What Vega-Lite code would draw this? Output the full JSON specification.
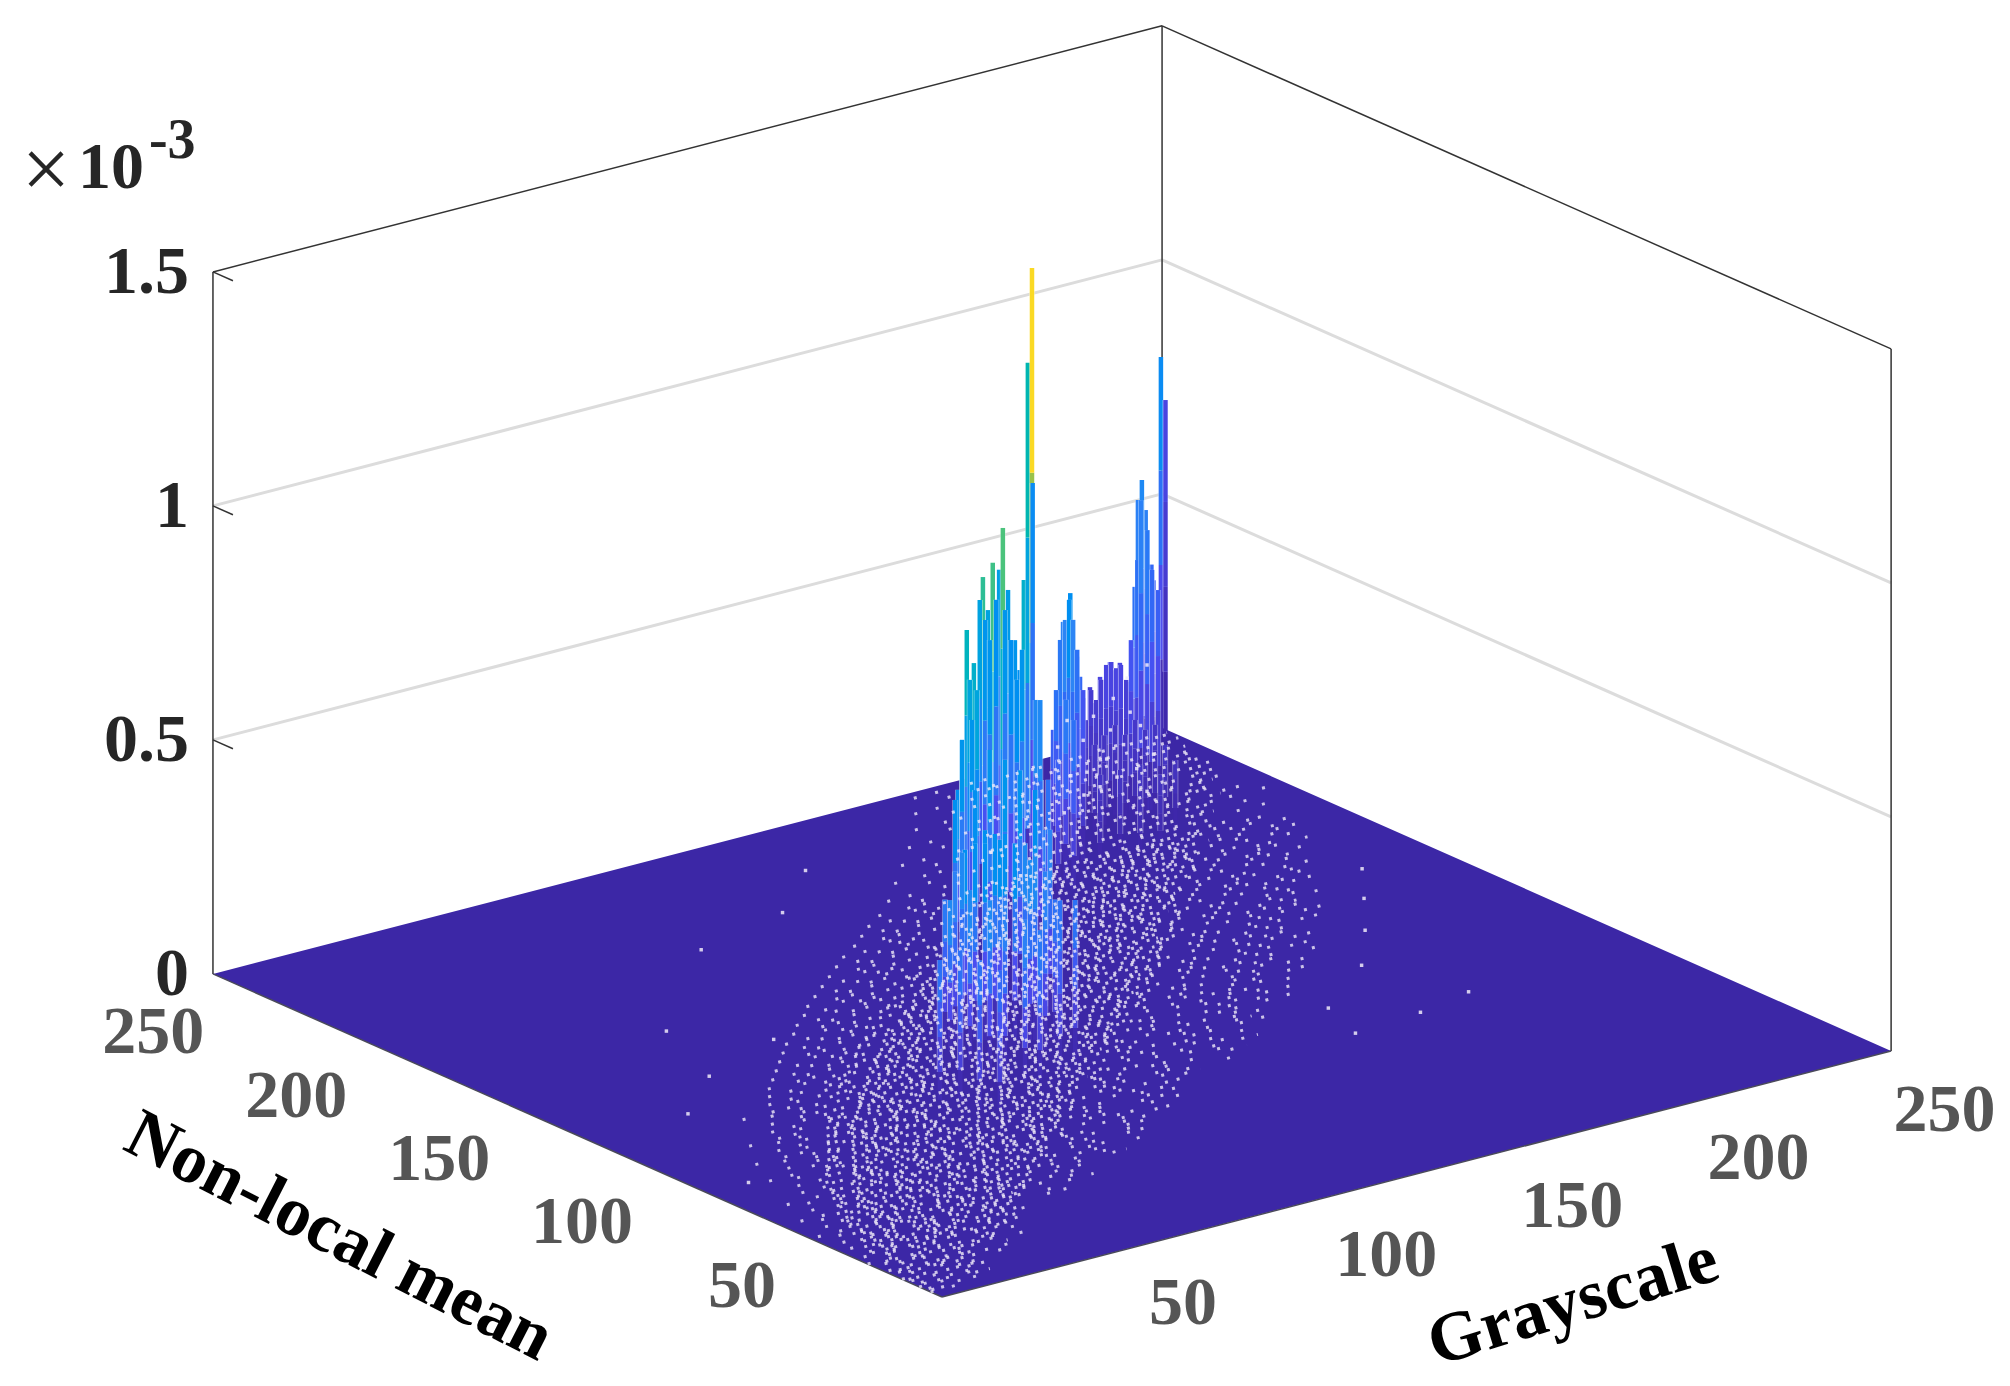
{"$schema":"https://vega.github.io/schema/vega-lite/v6.json","width":2010,"height":1386,"padding":0,"autosize":{"type":"fit","contains":"padding"},"background":"white","config":{"view":{"stroke":null}},
"datasets":{
"lines":[
{"k":"grid","g":0,"n":255,"z":0.5,"g2":255,"n2":255,"z2":0.5},{"k":"grid","g":255,"n":255,"z":0.5,"g2":255,"n2":0,"z2":0.5},{"k":"grid","g":0,"n":255,"z":1,"g2":255,"n2":255,"z2":1},{"k":"grid","g":255,"n":255,"z":1,"g2":255,"n2":0,"z2":1},
{"k":"box","g":0,"n":255,"z":0,"g2":0,"n2":255,"z2":1.5},{"k":"box","g":255,"n":255,"z":0,"g2":255,"n2":255,"z2":1.5},{"k":"box","g":255,"n":0,"z":0,"g2":255,"n2":0,"z2":1.5},{"k":"box","g":0,"n":255,"z":1.5,"g2":255,"n2":255,"z2":1.5},{"k":"box","g":255,"n":255,"z":1.5,"g2":255,"n2":0,"z2":1.5},
{"k":"box","g":0,"n":255,"z":0.5,"g2":0,"n2":248,"z2":0.5},{"k":"box","g":0,"n":255,"z":1,"g2":0,"n2":248,"z2":1},{"k":"box","g":0,"n":255,"z":1.5,"g2":0,"n2":248,"z2":1.5}],
"front":[{"k":"edge","g":0,"n":255,"z":0,"g2":0,"n2":0,"z2":0},{"k":"edge","g":0,"n":0,"z":0,"g2":255,"n2":0,"z2":0}],
"floor":[{"g":0,"n":255,"g2":0,"n2":255},{"g":195.9,"n":255,"g2":0,"n2":0},{"g":255,"n":255,"g2":59.4,"n2":0},{"g":255,"n":0,"g2":255,"n2":0}],
"mesh":[
{"n":4,"g":0,"g2":9,"p":"a"},{"n":6,"g":1,"g2":14,"p":"b"},{"n":8,"g":0,"g2":19,"p":"a"},{"n":10,"g":2,"g2":23,"p":"b"},{"n":12,"g":1,"g2":24,"p":"a"},{"n":14,"g":0,"g2":30,"p":"a"},{"n":16,"g":4,"g2":29,"p":"b"},{"n":18,"g":2,"g2":36,"p":"b"},{"n":20,"g":1,"g2":33,"p":"a"},{"n":22,"g":6,"g2":41,"p":"a"},{"n":24,"g":3,"g2":39,"p":"b"},{"n":26,"g":0,"g2":47,"p":"a"},{"n":28,"g":7,"g2":44,"p":"b"},{"n":30,"g":2,"g2":52,"p":"b"},{"n":32,"g":5,"g2":50,"p":"a"},{"n":34,"g":9,"g2":58,"p":"a"},{"n":36,"g":3,"g2":55,"p":"b"},{"n":38,"g":8,"g2":67,"p":"a"},{"n":40,"g":4,"g2":64,"p":"b"},{"n":42,"g":11,"g2":73,"p":"b"},{"n":44,"g":6,"g2":70,"p":"a"},{"n":46,"g":2,"g2":79,"p":"a"},{"n":48,"g":12,"g2":75,"p":"b"},{"n":50,"g":7,"g2":88,"p":"a"},{"n":52,"g":14,"g2":84,"p":"b"},{"n":54,"g":9,"g2":95,"p":"b"},{"n":56,"g":5,"g2":90,"p":"a"},{"n":58,"g":17,"g2":102,"p":"a"},{"n":60,"g":11,"g2":98,"p":"b"},{"n":62,"g":20,"g2":110,"p":"a"},{"n":64,"g":13,"g2":104,"p":"b"},{"n":66,"g":9,"g2":116,"p":"b"},{"n":68,"g":22,"g2":112,"p":"a"},{"n":70,"g":16,"g2":122,"p":"a"},{"n":72,"g":24,"g2":118,"p":"b"},{"n":74,"g":18,"g2":128,"p":"a"},{"n":76,"g":27,"g2":123,"p":"b"},{"n":78,"g":21,"g2":137,"p":"b"},{"n":80,"g":15,"g2":131,"p":"a"},{"n":82,"g":28,"g2":142,"p":"a"},{"n":84,"g":23,"g2":135,"p":"b"},{"n":86,"g":32,"g2":148,"p":"a"},{"n":88,"g":25,"g2":143,"p":"b"},{"n":90,"g":19,"g2":154,"p":"b"},{"n":92,"g":34,"g2":147,"p":"a"},{"n":94,"g":28,"g2":158,"p":"a"},{"n":96,"g":37,"g2":153,"p":"b"},{"n":98,"g":31,"g2":165,"p":"a"},{"n":100,"g":25,"g2":160,"p":"b"},{"n":102,"g":40,"g2":169,"p":"b"},{"n":104,"g":34,"g2":164,"p":"a"},{"n":106,"g":44,"g2":175,"p":"a"},{"n":108,"g":37,"g2":170,"p":"b"},{"n":110,"g":47,"g2":179,"p":"a"},{"n":112,"g":40,"g2":173,"p":"b"},{"n":114,"g":34,"g2":184,"p":"b"},{"n":116,"g":50,"g2":179,"p":"a"},{"n":118,"g":44,"g2":190,"p":"a"},{"n":120,"g":54,"g2":184,"p":"b"},{"n":122,"g":47,"g2":193,"p":"a"},{"n":124,"g":58,"g2":188,"p":"b"},{"n":126,"g":50,"g2":198,"p":"b"},{"n":128,"g":62,"g2":192,"p":"a"},{"n":130,"g":54,"g2":200,"p":"a"},{"n":132,"g":66,"g2":196,"p":"b"},{"n":134,"g":58,"g2":205,"p":"a"},{"n":136,"g":70,"g2":198,"p":"b"},{"n":138,"g":62,"g2":208,"p":"b"},{"n":140,"g":74,"g2":201,"p":"a"},{"n":142,"g":66,"g2":211,"p":"a"},{"n":144,"g":78,"g2":205,"p":"b"},{"n":146,"g":70,"g2":214,"p":"a"},{"n":148,"g":82,"g2":208,"p":"b"},{"n":150,"g":75,"g2":216,"p":"b"},{"n":152,"g":87,"g2":212,"p":"a"},{"n":154,"g":79,"g2":220,"p":"a"},{"n":156,"g":91,"g2":215,"p":"b"},{"n":158,"g":84,"g2":223,"p":"a"},{"n":160,"g":96,"g2":218,"p":"b"},{"n":162,"g":88,"g2":226,"p":"b"},{"n":164,"g":101,"g2":220,"p":"a"},{"n":166,"g":93,"g2":229,"p":"a"},{"n":168,"g":106,"g2":224,"p":"b"},{"n":170,"g":98,"g2":231,"p":"a"},{"n":172,"g":111,"g2":226,"p":"b"},{"n":174,"g":103,"g2":233,"p":"b"},{"n":176,"g":116,"g2":229,"p":"a"},{"n":178,"g":108,"g2":236,"p":"a"},{"n":180,"g":121,"g2":231,"p":"b"},{"n":182,"g":113,"g2":238,"p":"a"},{"n":184,"g":127,"g2":233,"p":"b"},{"n":186,"g":119,"g2":240,"p":"b"},{"n":188,"g":132,"g2":235,"p":"a"},{"n":190,"g":124,"g2":241,"p":"a"},{"n":192,"g":137,"g2":237,"p":"b"},{"n":194,"g":129,"g2":243,"p":"a"},{"n":196,"g":143,"g2":238,"p":"b"},{"n":198,"g":135,"g2":245,"p":"b"},{"n":200,"g":148,"g2":241,"p":"a"},{"n":204,"g":142,"g2":247,"p":"a"},{"n":208,"g":156,"g2":244,"p":"b"},{"n":212,"g":150,"g2":250,"p":"b"},{"n":216,"g":164,"g2":248,"p":"a"},{"n":220,"g":158,"g2":251,"p":"a"},{"n":224,"g":172,"g2":250,"p":"b"},{"n":228,"g":166,"g2":253,"p":"a"},{"n":232,"g":180,"g2":252,"p":"b"},{"n":236,"g":174,"g2":254,"p":"b"},{"n":240,"g":187,"g2":253,"p":"a"},{"n":244,"g":180,"g2":254,"p":"a"},{"n":248,"g":192,"g2":254,"p":"b"},{"n":252,"g":186,"g2":254,"p":"a"},
{"n":5,"g":1,"g2":7,"p":"c"},{"n":9,"g":2,"g2":15,"p":"d"},{"n":13,"g":1,"g2":19,"p":"e"},{"n":17,"g":4,"g2":23,"p":"c"},{"n":19,"g":3,"g2":26,"p":"e"},{"n":23,"g":6,"g2":32,"p":"d"},{"n":25,"g":4,"g2":35,"p":"c"},{"n":29,"g":7,"g2":40,"p":"e"},{"n":31,"g":5,"g2":38,"p":"d"},{"n":33,"g":9,"g2":43,"p":"c"},{"n":35,"g":6,"g2":47,"p":"e"},{"n":37,"g":10,"g2":45,"p":"d"},{"n":39,"g":8,"g2":50,"p":"c"},{"n":41,"g":12,"g2":54,"p":"d"},{"n":43,"g":9,"g2":52,"p":"e"},{"n":45,"g":14,"g2":58,"p":"c"},{"n":47,"g":11,"g2":61,"p":"e"},{"n":49,"g":15,"g2":59,"p":"d"},{"n":51,"g":12,"g2":64,"p":"c"},{"n":53,"g":18,"g2":68,"p":"d"},{"n":55,"g":14,"g2":66,"p":"e"},{"n":57,"g":21,"g2":73,"p":"c"},{"n":59,"g":17,"g2":70,"p":"e"},{"n":61,"g":24,"g2":78,"p":"d"},{"n":63,"g":19,"g2":76,"p":"c"},{"n":65,"g":27,"g2":83,"p":"d"},{"n":67,"g":22,"g2":80,"p":"e"},{"n":69,"g":29,"g2":88,"p":"c"},{"n":71,"g":25,"g2":85,"p":"e"},{"n":73,"g":32,"g2":92,"p":"d"},{"n":75,"g":27,"g2":90,"p":"c"},{"n":77,"g":35,"g2":97,"p":"d"},{"n":79,"g":30,"g2":95,"p":"e"},{"n":81,"g":38,"g2":102,"p":"c"},{"n":83,"g":33,"g2":99,"p":"e"},{"n":85,"g":41,"g2":107,"p":"d"},{"n":87,"g":36,"g2":104,"p":"c"},{"n":89,"g":44,"g2":111,"p":"d"},{"n":91,"g":39,"g2":109,"p":"e"},{"n":93,"g":47,"g2":116,"p":"c"},{"n":95,"g":42,"g2":113,"p":"e"},{"n":97,"g":50,"g2":120,"p":"d"},{"n":99,"g":45,"g2":118,"p":"c"},{"n":101,"g":54,"g2":125,"p":"d"},{"n":103,"g":49,"g2":122,"p":"e"},{"n":105,"g":58,"g2":129,"p":"c"},{"n":107,"g":53,"g2":127,"p":"e"},{"n":109,"g":62,"g2":134,"p":"d"},{"n":111,"g":57,"g2":131,"p":"c"},{"n":113,"g":66,"g2":138,"p":"d"},{"n":115,"g":60,"g2":136,"p":"e"},{"n":117,"g":70,"g2":143,"p":"c"},{"n":119,"g":64,"g2":140,"p":"e"},{"n":121,"g":74,"g2":147,"p":"d"},{"n":123,"g":68,"g2":145,"p":"c"},{"n":125,"g":78,"g2":151,"p":"d"},{"n":127,"g":72,"g2":149,"p":"e"},{"n":129,"g":82,"g2":155,"p":"c"},{"n":131,"g":77,"g2":153,"p":"e"},{"n":133,"g":87,"g2":160,"p":"d"},{"n":135,"g":81,"g2":157,"p":"c"},{"n":137,"g":92,"g2":164,"p":"d"},{"n":139,"g":86,"g2":162,"p":"e"},{"n":141,"g":97,"g2":168,"p":"c"},{"n":143,"g":91,"g2":166,"p":"e"},{"n":145,"g":102,"g2":172,"p":"d"},{"n":147,"g":96,"g2":170,"p":"c"},{"n":149,"g":107,"g2":176,"p":"d"},{"n":151,"g":101,"g2":174,"p":"e"},{"n":153,"g":112,"g2":180,"p":"c"},{"n":155,"g":106,"g2":178,"p":"e"},{"n":157,"g":117,"g2":184,"p":"d"},{"n":159,"g":111,"g2":182,"p":"c"},{"n":161,"g":122,"g2":188,"p":"d"},{"n":163,"g":116,"g2":186,"p":"e"},{"n":165,"g":127,"g2":192,"p":"c"},{"n":167,"g":122,"g2":190,"p":"e"},{"n":169,"g":133,"g2":196,"p":"d"},{"n":171,"g":127,"g2":194,"p":"c"},{"n":173,"g":138,"g2":200,"p":"d"},{"n":175,"g":132,"g2":198,"p":"e"},{"n":177,"g":143,"g2":204,"p":"c"},{"n":179,"g":138,"g2":202,"p":"e"},{"n":181,"g":148,"g2":208,"p":"d"},{"n":183,"g":143,"g2":206,"p":"c"},{"n":185,"g":154,"g2":212,"p":"d"},{"n":187,"g":149,"g2":210,"p":"e"},{"n":189,"g":160,"g2":216,"p":"c"},{"n":191,"g":155,"g2":214,"p":"e"},{"n":193,"g":165,"g2":220,"p":"d"},{"n":195,"g":160,"g2":218,"p":"c"},{"n":197,"g":170,"g2":224,"p":"d"},{"n":199,"g":165,"g2":222,"p":"e"},{"n":203,"g":176,"g2":228,"p":"c"},{"n":207,"g":172,"g2":232,"p":"e"},{"n":211,"g":182,"g2":236,"p":"d"},{"n":215,"g":178,"g2":240,"p":"c"},{"n":219,"g":188,"g2":242,"p":"d"},{"n":223,"g":184,"g2":244,"p":"e"},{"n":227,"g":194,"g2":246,"p":"c"},{"n":231,"g":190,"g2":248,"p":"e"},{"n":235,"g":200,"g2":250,"p":"d"},{"n":239,"g":196,"g2":251,"p":"c"},{"n":243,"g":206,"g2":252,"p":"d"},{"n":247,"g":202,"g2":253,"p":"e"},{"n":251,"g":210,"g2":254,"p":"c"}
],
"specks":[
{"g":213,"n":222,"z":0.05},{"g":214,"n":221,"z":0.11},{"g":215,"n":221,"z":0.17},{"g":216,"n":220,"z":0.07},{"g":217,"n":219,"z":0.14},{"g":218,"n":218,"z":0.21},{"g":219,"n":217,"z":0.09},{"g":220,"n":217,"z":0.18},{"g":221,"n":216,"z":0.04},{"g":222,"n":215,"z":0.12},{"g":212,"n":223,"z":0.2},{"g":211,"n":224,"z":0.08},{"g":210,"n":224,"z":0.15},{"g":215,"n":220,"z":0.24},{"g":218,"n":219,"z":0.28},{"g":221,"n":216,"z":0.31},{"g":188,"n":202,"z":0.1},{"g":189,"n":201,"z":0.18},{"g":190,"n":200,"z":0.06},{"g":187,"n":203,"z":0.24},{"g":188,"n":201,"z":0.3},{"g":191,"n":199,"z":0.14},{"g":136,"n":166,"z":0.12},{"g":139,"n":164,"z":0.22},{"g":141,"n":162,"z":0.08},{"g":144,"n":160,"z":0.17},{"g":105,"n":123,"z":0.1},{"g":108,"n":121,"z":0.2},{"g":111,"n":118,"z":0.14},{"g":115,"n":115,"z":0.24},
{"g":176,"n":94,"z":0},{"g":198,"n":111,"z":0},{"g":212,"n":128,"z":0},{"g":224,"n":144,"z":0},{"g":235,"n":159,"z":0},{"g":11,"n":82,"z":0},{"g":27,"n":124,"z":0},{"g":55,"n":168,"z":0},{"g":92,"n":204,"z":0},{"g":171,"n":78,"z":0},{"g":206,"n":84,"z":0},{"g":70,"n":150,"z":0},{"g":45,"n":140,"z":0},{"g":120,"n":212,"z":0},{"g":140,"n":230,"z":0},{"g":190,"n":80,"z":0}
],
"spikes":[
{"g":252,"n":251.5,"z":0.808,"cd":0.27},{"g":251,"n":248.6,"z":0.726,"cd":0.1},{"g":245,"n":245,"z":0.363,"cd":0.15},{"g":241,"n":240.5,"z":0.417,"cd":0.18},{"g":236,"n":236,"z":0.556,"cd":0.24},{"g":233.6,"n":234.2,"z":0.63,"cd":0.26},{"g":231,"n":232.2,"z":0.598,"cd":0.24},{"g":226,"n":232,"z":0.261,"cd":0.1},{"g":226.6,"n":227.6,"z":0.434,"cd":0.2},{"g":225.4,"n":228.5,"z":0.231,"cd":0.1},{"g":222.9,"n":230.4,"z":0.256,"cd":0.1},{"g":220.5,"n":228.3,"z":0.284,"cd":0.12},{"g":218.1,"n":226.2,"z":0.288,"cd":0.12},{"g":216.9,"n":227.1,"z":0.263,"cd":0.1},{"g":215.7,"n":228,"z":0.207,"cd":0.08},{"g":215.2,"n":228.4,"z":0.241,"cd":0.08},{"g":210.2,"n":224.3,"z":0.239,"cd":0.08},
{"g":210.7,"n":223.9,"z":0.192,"cd":0.07},{"g":211.6,"n":223.3,"z":0.256,"cd":0.07},{"g":212.4,"n":222.6,"z":0.235,"cd":0.07},{"g":213.3,"n":222,"z":0.278,"cd":0.08},{"g":214.1,"n":221.3,"z":0.31,"cd":0.1},{"g":215,"n":220.7,"z":0.316,"cd":0.1},{"g":215.8,"n":220,"z":0.303,"cd":0.1},{"g":216.6,"n":219.4,"z":0.31,"cd":0.1},{"g":217.5,"n":218.7,"z":0.278,"cd":0.08},{"g":218.3,"n":218.1,"z":0.363,"cd":0.14},{"g":219.4,"n":217.3,"z":0.534,"cd":0.2},{"g":220,"n":216.8,"z":0.662,"cd":0.24},{"g":221.1,"n":216,"z":0.598,"cd":0.22},{"g":221.9,"n":215.4,"z":0.513,"cd":0.18},{"g":222.9,"n":214.6,"z":0.47,"cd":0.16},
{"g":224.1,"n":213.7,"z":0.139,"cd":0.05},{"g":222.4,"n":215,"z":0.182,"cd":0.05},{"g":213.7,"n":217.7,"z":0.192,"cd":0.05},{"g":217.1,"n":215.1,"z":0.203,"cd":0.06},{"g":218.8,"n":213.8,"z":0.182,"cd":0.05},{"g":213.5,"n":213.9,"z":0.182,"cd":0.05},{"g":222,"n":207.4,"z":0.128,"cd":0.04},{"g":208,"n":214,"z":0.192,"cd":0.05},{"g":204.5,"n":212.8,"z":0.182,"cd":0.05},{"g":195.8,"n":207.7,"z":0.402,"cd":0.2},{"g":210,"n":197,"z":0.15,"cd":0.04},{"g":192.7,"n":206,"z":0.549,"cd":0.28},{"g":194.4,"n":204.8,"z":0.37,"cd":0.18},{"g":201.2,"n":199.6,"z":0.171,"cd":0.05},{"g":204.6,"n":197,"z":0.182,"cd":0.05},{"g":189.6,"n":204.5,"z":0.498,"cd":0.25},{"g":187.2,"n":202.4,"z":0.47,"cd":0.22},{"g":186,"n":203.3,"z":0.278,"cd":0.16},{"g":194,"n":197.2,"z":0.182,"cd":0.05},
{"g":186.5,"n":202.9,"z":0.363,"cd":0.2},{"g":188,"n":201.7,"z":0.513,"cd":0.25},{"g":188.7,"n":201.2,"z":0.556,"cd":0.28},{"g":189.4,"n":200.7,"z":0.513,"cd":0.25},{"g":190.1,"n":200.2,"z":0.449,"cd":0.2},{"g":191.1,"n":199.4,"z":0.363,"cd":0.14},
{"g":180.5,"n":191.7,"z":0.385,"cd":0.22},{"g":178,"n":185.7,"z":0.363,"cd":0.2},{"g":175.4,"n":187.7,"z":0.278,"cd":0.16},{"g":150.3,"n":187,"z":0.609,"cd":0.45},{"g":151.1,"n":182.4,"z":0.733,"cd":0.55},{"g":149.6,"n":183.6,"z":0.549,"cd":0.42},{"g":150.9,"n":178.7,"z":0.774,"cd":0.58},{"g":152,"n":177.9,"z":0.759,"cd":0.33},{"g":150.7,"n":174.9,"z":0.859,"cd":0.6},{"g":146.8,"n":177.9,"z":0.705,"cd":0.35},{"g":149.7,"n":171.8,"z":0.737,"cd":0.32},{"g":146.3,"n":174.4,"z":0.694,"cd":0.35},{"g":148.5,"n":164.7,"z":0.78,"cd":0.42},{"g":149.2,"n":164.2,"z":1.244,"cd":0.48},{"g":148,"n":161.2,"z":1.457,"cd":0.93},{"g":148.1,"n":161.1,"z":0.998,"cd":0.27},{"g":145.8,"n":162.9,"z":0.598,"cd":0.28},{"g":144.7,"n":163.6,"z":0.549,"cd":0.27},{"g":145.1,"n":163.4,"z":0.662,"cd":0.3},
{"g":133.5,"n":168.2,"z":0.353,"cd":0.28},{"g":134.2,"n":167.7,"z":0.459,"cd":0.3},{"g":135.5,"n":166.7,"z":0.588,"cd":0.36},{"g":136.7,"n":165.8,"z":0.566,"cd":0.36},{"g":138.1,"n":164.7,"z":0.716,"cd":0.3},{"g":138.9,"n":164.1,"z":0.673,"cd":0.3},{"g":140,"n":163.3,"z":0.759,"cd":0.28},{"g":141.5,"n":162.2,"z":0.737,"cd":0.3},{"g":142.5,"n":161.4,"z":0.673,"cd":0.28},{"g":143.5,"n":160.6,"z":0.588,"cd":0.28},{"g":144.4,"n":160,"z":0.652,"cd":0.3},{"g":146.7,"n":158.2,"z":0.545,"cd":0.26},{"g":147.6,"n":157.5,"z":0.374,"cd":0.24},{"g":148.3,"n":157,"z":0.267,"cd":0.22},
{"g":146.9,"n":154.1,"z":0.385,"cd":0.2},{"g":134,"n":163.9,"z":0.513,"cd":0.3},{"g":141.7,"n":150.1,"z":0.577,"cd":0.26},{"g":124.7,"n":155.3,"z":0.513,"cd":0.3},{"g":125.5,"n":146.7,"z":0.513,"cd":0.3},{"g":124.3,"n":139.8,"z":0.513,"cd":0.3},{"g":126.8,"n":137.8,"z":0.491,"cd":0.3},{"g":125.6,"n":130.9,"z":0.47,"cd":0.28},{"g":128.1,"n":129,"z":0.385,"cd":0.25},{"g":112,"n":141.2,"z":0.449,"cd":0.28},{"g":115.4,"n":138.6,"z":0.47,"cd":0.28},{"g":106,"n":130,"z":0.385,"cd":0.28},{"g":109.4,"n":127.4,"z":0.427,"cd":0.28},{"g":110,"n":123,"z":0.417,"cd":0.28},
{"g":98.8,"n":127.6,"z":0.3,"cd":0.22},{"g":100.5,"n":126.3,"z":0.36,"cd":0.24},{"g":101.7,"n":125.4,"z":0.4,"cd":0.26},{"g":103.9,"n":123.7,"z":0.42,"cd":0.28},{"g":105.6,"n":122.4,"z":0.42,"cd":0.28},{"g":107.3,"n":121.2,"z":0.44,"cd":0.28},{"g":109,"n":119.9,"z":0.44,"cd":0.28},{"g":110.7,"n":118.6,"z":0.42,"cd":0.28},{"g":112.4,"n":117.3,"z":0.42,"cd":0.26},{"g":114.1,"n":116,"z":0.4,"cd":0.26},{"g":115.8,"n":114.7,"z":0.36,"cd":0.24},{"g":117.5,"n":113.4,"z":0.3,"cd":0.2},
{"g":113.2,"n":116.6,"z":0.385,"cd":0.26},{"g":112,"n":109.7,"z":0.363,"cd":0.24},{"g":95.9,"n":122,"z":0.32,"cd":0.26},{"g":95.4,"n":114.4,"z":0.363,"cd":0.26},{"g":113.2,"n":100.8,"z":0.342,"cd":0.2},{"g":94.9,"n":106.8,"z":0.363,"cd":0.26},{"g":97.5,"n":104.9,"z":0.363,"cd":0.24},{"g":106.8,"n":97.8,"z":0.363,"cd":0.2},{"g":97.1,"n":97.4,"z":0.342,"cd":0.24},{"g":99.6,"n":95.4,"z":0.32,"cd":0.22},{"g":75,"n":98.4,"z":0.299,"cd":0.2},{"g":78.5,"n":95.8,"z":0.32,"cd":0.2},{"g":77.9,"n":88.2,"z":0.32,"cd":0.2},{"g":81.3,"n":85.6,"z":0.299,"cd":0.18}
],
"nticks":[{"g":0,"n":250,"z":0,"t":"250"},{"g":0,"n":200,"z":0,"t":"200"},{"g":0,"n":150,"z":0,"t":"150"},{"g":0,"n":100,"z":0,"t":"100"},{"g":0,"n":50,"z":0,"t":"50"}],
"gticks":[{"g":50,"n":0,"z":0,"t":"50"},{"g":100,"n":0,"z":0,"t":"100"},{"g":150,"n":0,"z":0,"t":"150"},{"g":200,"n":0,"z":0,"t":"200"},{"g":250,"n":0,"z":0,"t":"250"}],
"zticks":[{"g":0,"n":255,"z":0,"t":"0"},{"g":0,"n":255,"z":0.5,"t":"0.5"},{"g":0,"n":255,"z":1,"t":"1"},{"g":0,"n":255,"z":1.5,"t":"1.5"}]
},
"encoding":{"x":{"field":"sx","type":"quantitative","axis":null,"scale":{"domain":[0,2010],"nice":false,"zero":false}},"y":{"field":"sy","type":"quantitative","axis":null,"scale":{"domain":[0,1386],"reverse":true,"nice":false,"zero":false}}},
"layer":[
{"data":{"name":"lines"},"transform":[{"filter":"datum.k=='grid'"},{"calculate":"942+3.722*datum.g-2.859*datum.n","as":"sx"},{"calculate":"1297-0.965*datum.g-1.267*datum.n-468*datum.z","as":"sy"},{"calculate":"942+3.722*datum.g2-2.859*datum.n2","as":"sx2"},{"calculate":"1297-0.965*datum.g2-1.267*datum.n2-468*datum.z2","as":"sy2"}],"mark":{"type":"rule","color":"#dcdcdc","strokeWidth":3},"encoding":{"x2":{"field":"sx2"},"y2":{"field":"sy2"}}},
{"data":{"name":"lines"},"transform":[{"filter":"datum.k=='box'"},{"calculate":"942+3.722*datum.g-2.859*datum.n","as":"sx"},{"calculate":"1297-0.965*datum.g-1.267*datum.n-468*datum.z","as":"sy"},{"calculate":"942+3.722*datum.g2-2.859*datum.n2","as":"sx2"},{"calculate":"1297-0.965*datum.g2-1.267*datum.n2-468*datum.z2","as":"sy2"}],"mark":{"type":"rule","color":"#333333","strokeWidth":1.5},"encoding":{"x2":{"field":"sx2"},"y2":{"field":"sy2"}}},
{"data":{"name":"floor"},"transform":[{"calculate":"942+3.722*datum.g-2.859*datum.n","as":"sx"},{"calculate":"1297-0.965*datum.g-1.267*datum.n","as":"sy"},{"calculate":"1297-0.965*datum.g2-1.267*datum.n2","as":"sy2"}],"mark":{"type":"area","color":"#3c27a6","opacity":1},"encoding":{"y2":{"field":"sy2"}}},
{"data":{"name":"front"},"transform":[{"calculate":"942+3.722*datum.g-2.859*datum.n","as":"sx"},{"calculate":"1297-0.965*datum.g-1.267*datum.n-468*datum.z","as":"sy"},{"calculate":"942+3.722*datum.g2-2.859*datum.n2","as":"sx2"},{"calculate":"1297-0.965*datum.g2-1.267*datum.n2-468*datum.z2","as":"sy2"}],"mark":{"type":"rule","color":"#4a4a5a","strokeWidth":1.5},"encoding":{"x2":{"field":"sx2"},"y2":{"field":"sy2"}}},
{"data":{"name":"spikes"},"transform":[{"calculate":"[0,1,2,3,4]","as":"seg"},{"flatten":["seg"]},{"calculate":"[0.2,0,0.2,0.45,0.7][datum.seg]","as":"f0"},{"calculate":"[1,0.2,0.45,0.7,1][datum.seg]","as":"f1"},{"calculate":"datum.cd*[0,0.08,0.45,0.75,1][datum.seg]","as":"cc"},{"calculate":"[6,4.5,4.5,4.5,4.5][datum.seg]","as":"w"},{"calculate":"942+3.722*datum.g-2.859*datum.n","as":"sx"},{"calculate":"1297-0.965*datum.g-1.267*datum.n-468*datum.z*datum.f0","as":"sy"},{"calculate":"1297-0.965*datum.g-1.267*datum.n-468*datum.z*datum.f1","as":"sy2"}],"mark":{"type":"rule"},"encoding":{"y2":{"field":"sy2"},"strokeWidth":{"field":"w","type":"quantitative","scale":null,"legend":null},"opacity":{"condition":{"test":"datum.seg==0","value":0.45},"value":1},"color":{"condition":{"test":"datum.seg==0","value":"#ffffff"},"field":"cc","type":"quantitative","legend":null,"scale":{"domain":[0,0.125,0.25,0.375,0.5,0.625,0.75,0.875,1],"range":["#3e26a8","#4a4cf0","#2d85f5","#12a8d8","#20b8a8","#5cc46f","#c2bc3c","#f5bf30","#f9fb15"]}}}},
{"data":{"name":"mesh"},"transform":[{"calculate":"942+3.722*datum.g-2.859*datum.n","as":"sx"},{"calculate":"1297-0.965*datum.g-1.267*datum.n","as":"sy"},{"calculate":"942+3.722*datum.g2-2.859*datum.n","as":"sx2"},{"calculate":"1297-0.965*datum.g2-1.267*datum.n","as":"sy2"}],"mark":{"type":"rule","color":"#efeaf8","opacity":0.8,"strokeWidth":3},"encoding":{"x2":{"field":"sx2"},"y2":{"field":"sy2"},"strokeDash":{"field":"p","type":"nominal","legend":null,"scale":{"domain":["a","b","c","d","e"],"range":[[3,19,3,33,3,11,3,47,3,23,3,39,3,14,3,29],[3,27,3,13,3,41,3,17,3,31,3,9,3,53,3,21],[3,7,3,13,3,5,3,17,3,9,3,6,3,21,3,8,3,15],[3,11,3,6,3,19,3,8,3,5,3,14,3,10,3,23,3,7],[3,5,3,16,3,9,3,7,3,12,3,4,3,18,3,6,3,11]]}}}},
{"data":{"name":"specks"},"transform":[{"calculate":"942+3.722*datum.g-2.859*datum.n","as":"sx"},{"calculate":"1297-0.965*datum.g-1.267*datum.n-468*datum.z","as":"sy"}],"mark":{"type":"square","color":"#efeaf8","opacity":0.85,"size":12}},
{"data":{"name":"nticks"},"transform":[{"calculate":"942+3.722*datum.g-2.859*datum.n","as":"sx"},{"calculate":"1297-0.965*datum.g-1.267*datum.n","as":"sy"}],"mark":{"type":"text","font":"Liberation Serif","fontWeight":"bold","fontSize":68,"color":"#555555","align":"right","baseline":"middle","dx":-23,"dy":53},"encoding":{"text":{"field":"t"}}},
{"data":{"name":"gticks"},"transform":[{"calculate":"942+3.722*datum.g-2.859*datum.n","as":"sx"},{"calculate":"1297-0.965*datum.g-1.267*datum.n","as":"sy"}],"mark":{"type":"text","font":"Liberation Serif","fontWeight":"bold","fontSize":68,"color":"#555555","align":"left","baseline":"middle","dx":21,"dy":55},"encoding":{"text":{"field":"t"}}},
{"data":{"name":"zticks"},"transform":[{"calculate":"942+3.722*datum.g-2.859*datum.n","as":"sx"},{"calculate":"1297-0.965*datum.g-1.267*datum.n-468*datum.z","as":"sy"}],"mark":{"type":"text","font":"Liberation Serif","fontWeight":"bold","fontSize":68,"color":"#262626","align":"right","baseline":"middle","dx":-24,"dy":1},"encoding":{"text":{"field":"t"}}},
{"data":{"values":[{"g":-79,"n":108,"t":"Non-local mean"}]},"transform":[{"calculate":"942+3.722*datum.g-2.859*datum.n","as":"sx"},{"calculate":"1297-0.965*datum.g-1.267*datum.n","as":"sy"}],"mark":{"type":"text","font":"Liberation Serif","fontWeight":"bold","fontSize":70,"color":"#000000","align":"center","baseline":"middle","angle":27},"encoding":{"text":{"field":"t"}}},
{"data":{"values":[{"g":105,"n":-84,"t":"Grayscale"}]},"transform":[{"calculate":"942+3.722*datum.g-2.859*datum.n","as":"sx"},{"calculate":"1297-0.965*datum.g-1.267*datum.n","as":"sy"}],"mark":{"type":"text","font":"Liberation Serif","fontWeight":"bold","fontSize":70,"color":"#000000","align":"center","baseline":"middle","angle":-17},"encoding":{"text":{"field":"t"}}},
{"data":{"values":[{"g":0,"n":255,"z":1.5,"t":"×"}]},"transform":[{"calculate":"942+3.722*datum.g-2.859*datum.n","as":"sx"},{"calculate":"1297-0.965*datum.g-1.267*datum.n-468*datum.z","as":"sy"}],"mark":{"type":"text","font":"Liberation Serif","fontSize":86,"color":"#262626","align":"center","baseline":"middle","dx":-167,"dy":-100},"encoding":{"text":{"field":"t"}}},
{"data":{"values":[{"g":0,"n":255,"z":1.5,"t":"10"}]},"transform":[{"calculate":"942+3.722*datum.g-2.859*datum.n","as":"sx"},{"calculate":"1297-0.965*datum.g-1.267*datum.n-468*datum.z","as":"sy"}],"mark":{"type":"text","font":"Liberation Serif","fontWeight":"bold","fontSize":66,"color":"#262626","align":"left","baseline":"middle","dx":-135,"dy":-104},"encoding":{"text":{"field":"t"}}},
{"data":{"values":[{"g":0,"n":255,"z":1.5,"t":"-3"}]},"transform":[{"calculate":"942+3.722*datum.g-2.859*datum.n","as":"sx"},{"calculate":"1297-0.965*datum.g-1.267*datum.n-468*datum.z","as":"sy"}],"mark":{"type":"text","font":"Liberation Serif","fontWeight":"bold","fontSize":56,"color":"#262626","align":"left","baseline":"middle","dx":-64,"dy":-131},"encoding":{"text":{"field":"t"}}}
]}
